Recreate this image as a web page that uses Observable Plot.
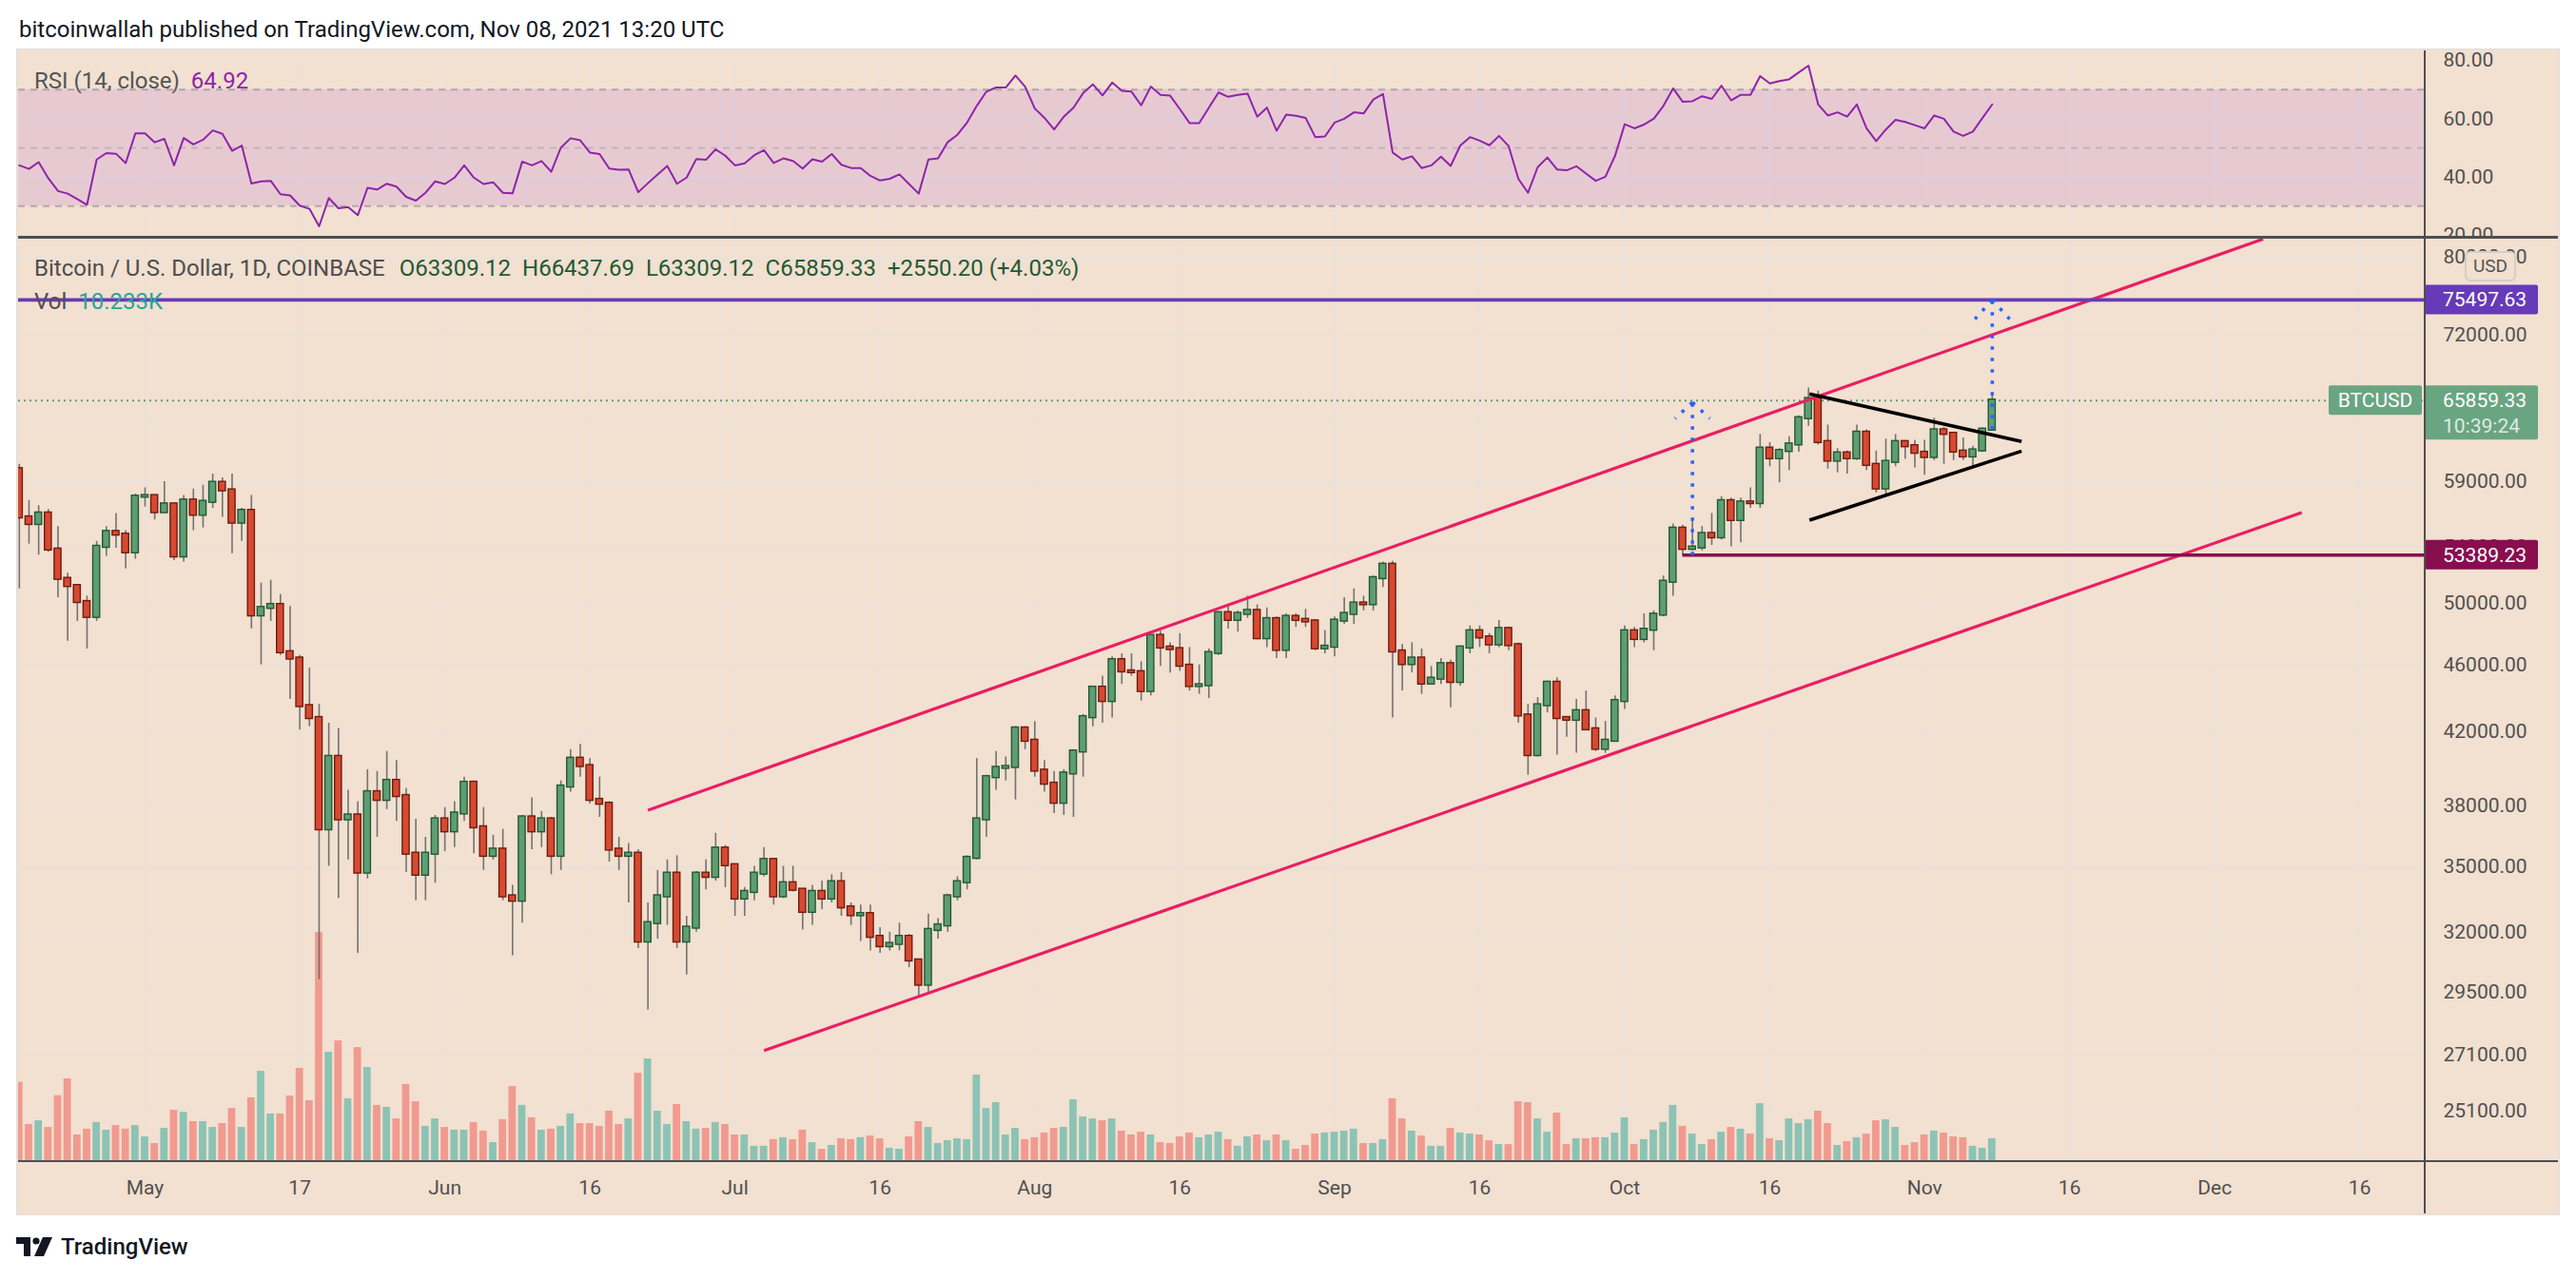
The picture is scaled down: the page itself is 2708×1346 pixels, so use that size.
<!DOCTYPE html>
<html>
<head>
<meta charset="utf-8">
<script src="https://cdn.jsdelivr.net/npm/d3@7"></script>
<script src="https://cdn.jsdelivr.net/npm/@observablehq/plot@0.6"></script>
<style>
html,body{margin:0;padding:0;background:#fff;}
#root{position:relative;width:2708px;height:1346px;overflow:hidden;background:#fff;font-family:Roboto,"Liberation Sans",Arial,sans-serif;}
.a{position:absolute;white-space:nowrap;}
</style>
</head>
<body>
<div id="root"></div>
<script>
// ---------------- data (daily candles, BTC/USD Coinbase, from 2021-04-18) ----------------
const startDate = "2021-04-18";
const open = [60000,56200,55700,56500,53800,51700,51200,50100,49100,54000,
55100,54900,53600,57800,57850,56600,57200,53300,57500,56400,
57400,58900,58300,55800,56700,49200,49700,49900,46800,46400,
43500,42800,36800,40600,37300,37500,34700,38700,38300,39300,
38500,35600,34600,35600,37300,36700,37600,39200,36900,35500,
35800,33600,33400,37400,36700,37300,35500,39000,40500,40100,
38300,38100,35800,35500,35600,31600,32400,33600,34650,31600,
32200,34650,34500,35850,35050,33500,33800,34650,35300,33600,
34200,33900,32900,33800,33500,34250,33100,32750,32800,31800,
31400,31500,31800,30800,29800,32100,32300,33600,34250,35400,
37300,39500,40000,40050,42200,41500,39850,39150,38150,39700,
40900,42850,44600,43800,46300,45600,45550,44400,47850,47100,
47000,45950,44700,44750,46750,49350,48900,49300,49500,47700,
48950,46950,49100,48900,48800,47050,47150,48850,49300,50000,
49950,51750,52700,46850,46050,46400,44850,45150,46050,44950,
47100,48150,47750,47300,48300,47250,42950,40700,43550,44900,
42800,42700,43200,42150,41050,41500,43800,48150,47650,48250,
49250,51500,55350,53850,53950,54950,54700,57450,56000,57350,
57300,61700,60900,61500,62050,64300,66000,62250,60700,61300,
60900,63050,60350,58450,60600,62250,61900,61350,61000,63250,
62950,61450,61050,61550,63309.12];
const high = [60400,57500,57100,56800,55500,52100,51200,50500,54400,55500,
56500,55200,58000,58500,57900,59000,57200,57900,58400,58700,
59600,59300,59600,56900,57900,51400,51600,50600,49800,46600,
45800,43600,42500,42200,38800,38200,39900,39800,40900,40400,
38900,37300,36400,37500,37900,38200,39500,39300,37900,36500,
36800,34100,37500,38400,37700,37400,39300,41000,41300,40500,
39500,38200,36400,36100,35800,33300,34800,35300,35500,32700,
34750,35300,36600,36000,35100,34000,35000,35900,35300,35000,
35000,33900,34100,34300,34600,34700,33300,33200,33200,32200,
32000,32400,31900,30800,32800,32600,33700,34500,35500,40500,
39600,40900,40600,42300,42300,42600,40400,39800,39900,41000,
43000,44700,45300,46500,46700,46700,46200,47900,48150,47400,
48000,47100,46000,47000,49400,49800,49500,50500,49900,49700,
49100,49300,49300,49600,48900,48200,49100,50400,51000,50500,
51900,52900,52950,47300,47400,47000,45900,46400,46300,47200,
48500,48500,48000,48850,48400,47400,43600,44000,45000,45200,
42800,43900,44400,42800,42600,44100,48500,48400,49300,49500,
51900,55700,55600,56100,55500,56500,57800,57700,57700,58500,
62900,62200,61700,62700,64500,67000,66700,63700,61700,61500,
63700,63300,61500,62500,62900,62300,62400,62400,64300,63500,
63000,62600,61900,63450,66437.69];
const low = [51000,54200,53400,53600,50400,47500,48800,47000,48800,53300,
53900,52400,53100,57000,56000,56500,53000,52900,55200,55400,
56900,56200,53500,54400,48300,46000,48800,46600,43900,42100,
42300,30000,35000,33500,35300,31100,34400,36400,37800,37200,
34700,33400,33400,34200,35700,35900,37200,35600,34800,35300,
33400,31000,32400,35800,35900,34600,34800,38700,39500,38100,
37400,35200,34800,33300,31300,28800,31700,32300,31300,30200,
32000,33900,34300,34000,32700,32700,33400,34500,33200,33500,
33800,32100,32300,33000,33300,32700,32300,31600,31200,31100,
31200,31200,30500,29300,29500,31700,32000,33400,33900,35300,
36400,38800,39300,38300,41000,39500,38700,37600,37500,37400,
39500,42300,42500,42800,44800,45300,43800,44100,45900,45500,
45600,44400,44200,43950,46600,48300,48100,49000,47600,47100,
46400,46400,48400,48400,46900,46700,46500,48600,48600,49500,
49500,51100,42800,44400,45500,44200,44800,44800,43400,44700,
46700,47100,46700,47100,46900,42500,39600,40600,43100,40700,
41700,40800,42100,40900,40800,41500,43300,47100,47400,46900,
49100,50500,53400,53700,53700,54100,54500,54000,54300,56900,
56900,60200,58900,59900,61400,63600,62000,60000,59700,59600,
60700,59900,58100,57800,60200,60800,60100,59500,60700,60400,
60700,60700,60100,61400,63309.12];
const close = [56200,55700,56500,53800,51700,51200,50100,49100,54000,55100,
54900,53600,57800,57850,56600,57200,53300,57500,56400,57400,
58900,58300,55800,56700,49200,49700,49900,46800,46400,43500,
42800,36800,40600,37300,37500,34700,38700,38300,39300,38500,
35600,34600,35600,37300,36700,37600,39200,36900,35500,35800,
33600,33400,37400,36700,37300,35500,39000,40500,40100,38300,
38100,35800,35500,35600,31600,32400,33600,34650,31600,32200,
34650,34500,35850,35050,33500,33800,34650,35300,33600,34200,
33900,32900,33800,33500,34250,33100,32750,32800,31800,31400,
31500,31800,30800,29800,32100,32300,33600,34250,35400,37300,
39500,40000,40050,42200,41500,39850,39150,38150,39700,40900,
42850,44600,43800,46300,45600,45550,44400,47850,47100,47000,
45950,44700,44750,46750,49350,48900,49300,49500,47700,48950,
46950,49100,48900,48800,47050,47150,48850,49300,50000,49950,
51750,52700,46850,46050,46400,44850,45150,46050,44950,47100,
48150,47750,47300,48300,47250,42950,40700,43550,44900,42800,
42700,43200,42150,41050,41500,43800,48150,47650,48250,49250,
51500,55350,53850,53950,54950,54700,57450,56000,57350,57300,
61700,60900,61500,62050,64300,66000,62250,60700,61300,60900,
63050,60350,58450,60600,62250,61900,61350,61000,63250,62950,
61450,61050,61550,63309.12,65859.33];
// volume, thousands of BTC
const volume = [36.6,16.9,18.6,15.5,30.3,38.2,12.0,14.7,17.8,14.2,
16.4,14.7,16.4,11.1,8.0,15.1,23.5,22.6,18.2,18.2,
15.5,17.3,24.4,15.5,29.3,41.7,21.8,21.8,30.2,43.1,
28.0,106.6,50.6,55.9,28.9,52.8,43.5,25.8,24.9,19.5,
35.5,27.5,16.0,19.5,15.5,14.2,14.2,17.8,13.8,8.4,
19.1,34.6,25.8,20.0,14.2,14.7,16.0,21.8,17.3,17.3,
16.0,23.1,16.9,19.5,40.8,47.5,23.1,16.9,26.2,18.2,
14.7,15.1,17.8,16.9,12.0,12.0,6.7,6.7,9.8,10.7,
9.8,14.2,8.4,5.3,7.1,10.2,9.8,10.7,11.5,10.2,
5.8,5.3,11.1,18.2,15.5,8.0,9.3,10.2,9.8,40.0,
24.4,27.1,12.0,15.1,9.8,10.7,12.9,15.1,15.5,28.4,
20.4,19.5,18.6,19.5,13.8,12.0,13.3,12.0,8.4,8.0,
11.1,12.9,10.7,12.0,13.3,9.8,6.7,11.1,12.0,9.3,
12.0,9.3,5.3,7.1,12.4,12.9,13.3,13.8,14.7,8.0,
8.0,9.8,28.9,19.5,13.8,11.5,6.7,6.7,15.1,12.9,
12.4,12.0,9.3,7.5,7.5,27.5,27.1,19.5,13.3,22.2,
7.5,10.2,10.2,10.7,10.7,12.9,20.0,7.5,9.8,14.2,
17.8,25.8,16.0,12.4,7.5,9.8,13.3,15.5,14.7,12.4,
26.6,10.2,9.3,19.5,17.3,19.1,23.1,17.3,7.1,8.9,
10.7,12.4,18.6,19.1,15.5,7.1,8.4,12.0,13.8,12.9,
11.1,10.7,6.7,5.8,10.233];
// RSI (14, close)
const rsi = [44.0,42.8,45.1,39.6,35.2,34.3,32.4,30.5,46.0,48.2,
48.0,44.8,55.0,55.0,51.9,53.1,44.0,53.4,51.2,52.8,
56.0,54.8,49.0,50.8,37.8,38.5,38.7,34.1,33.7,30.2,
29.1,23.1,32.8,29.3,29.7,26.9,36.3,35.7,37.7,36.7,
33.2,31.9,34.6,38.5,37.6,39.8,44.0,39.8,37.6,38.2,
34.6,34.4,45.3,44.0,45.5,41.8,50.1,53.3,52.6,48.4,
47.9,42.9,42.5,42.6,34.8,37.9,40.9,43.8,37.7,39.8,
46.2,45.9,49.5,47.3,44.0,44.7,47.5,49.2,44.8,46.4,
45.5,42.9,46.1,45.3,47.9,44.2,43.1,43.1,40.4,38.8,
39.4,40.9,37.6,34.3,46.0,46.4,52.0,54.5,58.7,64.4,
69.3,70.7,70.7,74.8,71.0,63.5,60.3,56.3,60.7,63.8,
68.8,71.8,68.0,72.4,69.6,69.3,64.6,71.0,68.2,67.9,
63.3,58.5,58.5,63.8,69.0,67.5,68.2,68.6,60.7,63.8,
55.9,61.4,61.0,60.3,53.7,53.9,58.7,60.0,62.2,61.8,
66.6,68.5,48.4,46.0,47.1,43.1,44.0,47.0,43.8,50.8,
53.7,52.5,50.9,54.1,50.6,39.4,34.6,43.4,46.7,42.6,
42.3,43.7,41.2,38.7,40.1,47.3,58.1,56.7,58.0,60.0,
64.4,70.4,65.8,66.0,67.7,66.8,71.3,66.3,68.2,68.2,
74.6,72.1,72.9,73.5,75.9,78.2,64.9,61.1,62.2,60.7,
64.9,56.7,52.3,56.3,59.6,58.9,57.8,56.7,61.1,60.0,
55.6,54.1,55.6,60.3,64.92];

// axes
const xDomain = ["2021-04-17T22:05Z", "2021-12-22T18:29Z"];
const yDomain = [23469, 82093];
const volDomain = [0, 430.7];
const timeTicks = ["2021-05-01","2021-05-17","2021-06-01","2021-06-16","2021-07-01","2021-07-16","2021-08-01","2021-08-16","2021-09-01","2021-09-16","2021-10-01","2021-10-16","2021-11-01","2021-11-16","2021-12-01","2021-12-16"];
const timeLabels = ["May","17","Jun","16","Jul","16","Aug","16","Sep","16","Oct","16","Nov","16","Dec","16"];
const priceTicks = [80000,72000,64000,59000,54000,50000,46000,42000,38000,35000,32000,29500,27100,25100];
const rsiTicks = [20,40,60,80];
const rsiBand = [30,70];
const rsiOuterLevels = [70,30];
const rsiMidLevel = [50];

// drawings (time, price)
const channels = [
  {x1:"2021-06-22", y1:37770, x2:"2021-12-06", y2:82000},
  {x1:"2021-07-04", y1:27250, x2:"2021-12-10", y2:56560}
];
const triangle = [
  {x1:"2021-10-20T02:24Z", y1:66450, x2:"2021-11-11T00:45Z", y2:62290},
  {x1:"2021-10-20T02:24Z", y1:55990, x2:"2021-11-11T00:45Z", y2:61490}
];
const resistance = [75497.63];
const support = [{x1:"2021-10-07", x2:"2021-12-22T18:29Z", y:53389.23}];
const lastPrice = [65859.33];
const arrows = [
  {x1:"2021-10-08", y1:53389.23, x2:"2021-10-08", y2:65700},
  {x1:"2021-10-08", y1:65700, x2:"2021-10-06T05:00Z", y2:64270},
  {x1:"2021-10-08", y1:65700, x2:"2021-10-09T19:00Z", y2:64270},
  {x1:"2021-11-08", y1:63309.12, x2:"2021-11-08", y2:75497.63},
  {x1:"2021-11-08", y1:75497.63, x2:"2021-11-06T05:00Z", y2:73560},
  {x1:"2021-11-08", y1:75497.63, x2:"2021-11-09T19:00Z", y2:73560}
];
const axisBoxes = [
  {price:75497.63, text:"75497.63", color:"#673ab7"},
  {price:65859.33, text:"65859.33", sub:"10:39:24", tag:"BTCUSD", color:"#6aa581"},
  {price:53389.23, text:"53389.23", color:"#880e4f"}
];

// ---------------- rendering ----------------
const root = document.getElementById("root");
const FONT = 'Roboto, "Liberation Sans", Arial, sans-serif';
const BG = "#f2e0d0", GRID = "#e9e2dc";
const UP_FILL = "#5f9d72", UP_LINE = "#215a34", DN_FILL = "#d64a31", DN_LINE = "#711b10", WICK = "#727272";
const W = 2670, MR = 140;
const DAY = 864e5;
const start = new Date(startDate);
const candles = close.map((c, i) => ({date: d3.utcDay.offset(start, i), open: open[i], high: high[i], low: low[i], close: c, vol: volume[i], rsi: rsi[i]}));
const ups = candles.filter(d => d.close >= d.open);
const downs = candles.filter(d => d.close < d.open);
const xd = xDomain.map(s => new Date(s));
const tTicks = timeTicks.map(s => new Date(s));
const tLab = new Map(tTicks.map((t, i) => [+t, timeLabels[i]]));
const bx1 = d => new Date(+d.date - 0.355 * DAY);
const bx2 = d => new Date(+d.date + 0.355 * DAY);
const vx1 = d => new Date(+d.date - 0.38 * DAY);
const vx2 = d => new Date(+d.date + 0.38 * DAY);
const dt = s => new Date(s);
const style = {background: "transparent", fontFamily: FONT, fontSize: "21px", color: "#505050", overflow: "hidden"};

function div(x, y, w, h, css, html) {
  const d = document.createElement("div");
  d.className = "a";
  d.style.cssText = `left:${x}px;top:${y}px;` + (w != null ? `width:${w}px;` : "") + (h != null ? `height:${h}px;` : "") + (css || "");
  if (html != null) d.innerHTML = html;
  root.appendChild(d);
  return d;
}

// header
div(20, 15, null, null, "font-size:24px;line-height:32px;color:#131722;", "bitcoinwallah published on TradingView.com, Nov 08, 2021 13:20 UTC");
// chart frame background
div(18, 52, 2672, 1225, `background:${BG};box-shadow:0 0 0 1px #dedede;`);

// RSI pane
const rsiPlot = Plot.plot({
  width: W, height: 196, marginLeft: 0, marginRight: MR, marginTop: 10, marginBottom: 2, style,
  x: {type: "utc", domain: xd, axis: null},
  y: {domain: [20, 80], ticks: rsiTicks, tickFormat: d => d.toFixed(2), tickSize: 0, tickPadding: 19, label: null, axis: "right"},
  marks: [
    Plot.ruleX(tTicks, {stroke: GRID, strokeWidth: 1.6}),
    Plot.ruleY(rsiTicks, {stroke: GRID, strokeWidth: 1.6}),
    Plot.rect([rsiBand], {y1: d => d[0], y2: d => d[1], fill: "rgb(159,49,225)", fillOpacity: 0.12}),
    Plot.ruleY(rsiOuterLevels, {stroke: "#8c8794", strokeOpacity: 0.6, strokeDasharray: "7,6", strokeWidth: 2}),
    Plot.ruleY(rsiMidLevel, {stroke: "#8c8794", strokeOpacity: 0.35, strokeDasharray: "7,6", strokeWidth: 2}),
    Plot.line(candles, {x: "date", y: "rsi", stroke: "#8e24aa", strokeWidth: 2})
  ]
});
div(19, 53, W, 196).appendChild(rsiPlot);

// main pane: grid + axes
const gridPlot = Plot.plot({
  width: W, height: 1026, marginLeft: 0, marginRight: MR, marginTop: 0, marginBottom: 56, style,
  x: {type: "utc", domain: xd, ticks: tTicks, tickFormat: d => tLab.get(+d) ?? "", tickSize: 0, tickPadding: 21, label: null},
  y: {type: "log", domain: yDomain, ticks: priceTicks, tickFormat: d => d.toFixed(2), tickSize: 0, tickPadding: 19, label: null, axis: "right"},
  marks: [
    Plot.ruleY(priceTicks, {stroke: GRID, strokeWidth: 1.6}),
    Plot.ruleX(tTicks, {stroke: GRID, strokeWidth: 1.6})
  ]
});
div(19, 250, W, 1026).appendChild(gridPlot);

// volume overlay
const volPlot = Plot.plot({
  width: W, height: 1026, marginLeft: 0, marginRight: MR, marginTop: 0, marginBottom: 56, style,
  x: {type: "utc", domain: xd, axis: null},
  y: {domain: volDomain, axis: null},
  marks: [
    Plot.rect(ups, {x1: vx1, x2: vx2, y1: 0, y2: "vol", fill: "rgba(38,166,154,0.5)"}),
    Plot.rect(downs, {x1: vx1, x2: vx2, y1: 0, y2: "vol", fill: "rgba(239,83,80,0.5)"})
  ]
});
div(19, 250, W, 1026).appendChild(volPlot);

// axis price labels (placed with the plot's y scale)
const labelMark = (index, scales, values, dims) => {
  const g = d3.create("svg:g").attr("font-family", FONT).attr("font-size", 21).attr("text-anchor", "start");
  const xr = dims.width - dims.marginRight;
  for (const b of axisBoxes) {
    const y = scales.y(b.price);
    g.append("rect").attr("x", xr).attr("y", y - 15.5).attr("width", 119).attr("height", b.sub ? 57 : 31).attr("rx", 2).attr("fill", b.color);
    g.append("text").attr("x", xr + 19).attr("y", y).attr("dy", "0.36em").attr("text-anchor", "start").attr("fill", "#fff").text(b.text);
    if (b.sub) g.append("text").attr("x", xr + 19).attr("y", y + 27).attr("dy", "0.36em").attr("text-anchor", "start").attr("fill", "#fff").attr("fill-opacity", 0.78).text(b.sub);
    if (b.tag) {
      g.append("rect").attr("x", xr - 101).attr("y", y - 15.5).attr("width", 98).attr("height", 31).attr("rx", 2).attr("fill", b.color);
      g.append("text").attr("x", xr - 52).attr("y", y).attr("dy", "0.36em").attr("text-anchor", "middle").attr("fill", "#fff").text(b.tag);
    }
  }
  return g.node();
};

// candles + drawings
const pricePlot = Plot.plot({
  width: W, height: 1026, marginLeft: 0, marginRight: MR, marginTop: 0, marginBottom: 56, style,
  x: {type: "utc", domain: xd, axis: null},
  y: {type: "log", domain: yDomain, axis: null},
  marks: [
    Plot.ruleY(lastPrice, {stroke: "#5f9e74", strokeWidth: 2, strokeDasharray: "2,4"}),
    Plot.ruleX(candles, {x: "date", y1: "low", y2: "high", stroke: WICK, strokeWidth: 1.6}),
    Plot.rect(ups, {x1: bx1, x2: bx2, y1: "open", y2: "close", fill: UP_FILL, stroke: UP_LINE, strokeWidth: 1.4, insetTop: -1, insetBottom: -1}),
    Plot.rect(downs, {x1: bx1, x2: bx2, y1: "open", y2: "close", fill: DN_FILL, stroke: DN_LINE, strokeWidth: 1.4, insetTop: -1, insetBottom: -1}),
    Plot.link(channels, {x1: d => dt(d.x1), y1: "y1", x2: d => dt(d.x2), y2: "y2", stroke: "#e91e63", strokeWidth: 3.2}),
    Plot.link(triangle, {x1: d => dt(d.x1), y1: "y1", x2: d => dt(d.x2), y2: "y2", stroke: "#000", strokeWidth: 3.6}),
    Plot.ruleY(resistance, {stroke: "#673ab7", strokeWidth: 3.6}),
    Plot.ruleY(support, {x1: d => dt(d.x1), x2: d => dt(d.x2), y: "y", stroke: "#880e4f", strokeWidth: 3.6}),
    Plot.link(arrows, {x1: d => dt(d.x1), y1: "y1", x2: d => dt(d.x2), y2: "y2", stroke: "#2962ff", strokeWidth: 3.5, strokeDasharray: "3.5,8.5"}),
    labelMark
  ]
});
div(19, 250, W, 1026).appendChild(pricePlot);

// pane separators
div(19, 248, 2670, 2.5, "background:#4f4f4f;");
div(19, 1219.5, 2670, 2.5, "background:#4f4f4f;");
div(2548, 53, 2, 1223, "background:#4f4f4f;");

// legends
div(36, 71, null, null, "font-size:24px;line-height:28px;color:#555;", 'RSI (14, close)&nbsp;&nbsp;<span style="color:#8e24aa">64.92</span>');
const g = 'color:#1f5a35;margin-left:12px';
div(36, 267, null, null, "font-size:24px;line-height:30px;color:#4e4e4e;",
  `Bitcoin / U.S. Dollar, 1D, COINBASE<span style="${g};margin-left:15px">O63309.12</span><span style="${g}">H66437.69</span><span style="${g}">L63309.12</span><span style="${g}">C65859.33</span><span style="${g}">+2550.20 (+4.03%)</span>`);
div(36, 302, null, null, "font-size:24px;line-height:30px;color:#4e4e4e;", 'Vol&nbsp;&nbsp;<span style="color:#26a69a">10.233K</span>');

// USD box on price scale
div(2591, 264, 50, 28, `border:2px solid #d6cdc4;border-radius:6px;background:${BG};font-size:19px;line-height:28px;text-align:center;color:#555;`, "USD");

// footer
div(17, 1299, 46, 24, "", '<svg width="46" height="24" viewBox="0 0 46 24"><path d="M0 2h15v20h-7V9H0z" fill="#131722"/><circle cx="21" cy="6" r="3.6" fill="#131722"/><path d="M28 2h10l-9 20h-10z" fill="#131722"/></svg>');
div(64, 1296, null, null, "font-size:24px;line-height:30px;color:#131722;font-weight:500;", "TradingView");
</script>
</body>
</html>
